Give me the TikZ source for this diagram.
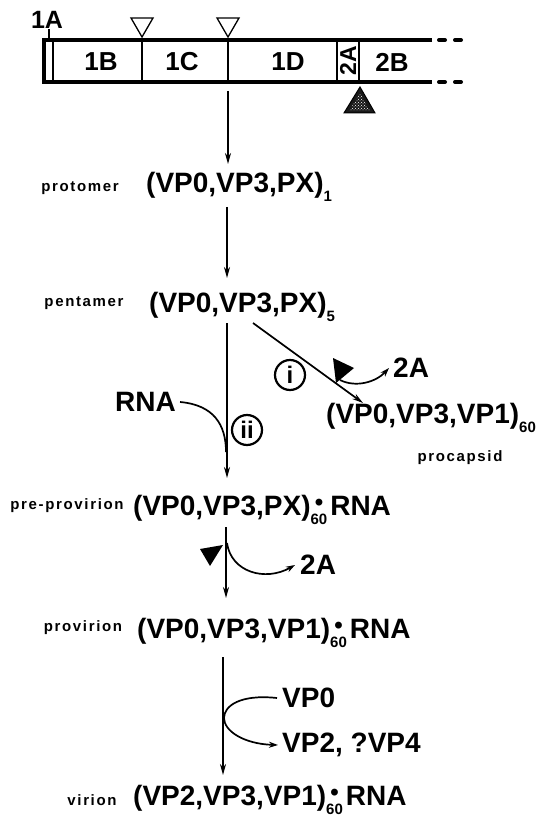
\documentclass[tikz,border=0pt]{standalone}
\usepackage{fontspec}
\setmainfont{Liberation Sans}
\newfontfamily\stagefam{Liberation Sans}[LetterSpace=11]
\usetikzlibrary{arrows.meta,patterns}

% subscript sizes and the stacked "dot over 60" used in the RNA complexes
\newcommand\subsz{\fontsize{15}{15}\selectfont}
\newcommand\lowsub[1]{\raisebox{-9pt}{\subsz #1}}
\newcommand\dotsub[1]{{\subsz\ooalign{\raisebox{-9pt}{#1}\cr\hidewidth\raisebox{5pt}{\fontsize{24}{24}\selectfont\textbullet}\hidewidth\cr}}\hspace{3pt}}

\begin{document}
\begin{tikzpicture}[x=1pt,y=-1pt,
  formula/.style={font=\fontsize{28}{30}\selectfont\bfseries, inner sep=0pt, anchor=base west},
  sidelbl/.style={font=\fontsize{28}{30}\selectfont\bfseries, inner sep=0pt, anchor=west},
  stage/.style={font=\stagefam\fontsize{15}{17}\selectfont\bfseries, inner sep=0pt},
  seg/.style={font=\fontsize{26}{28}\selectfont\bfseries, inner sep=0pt},
  flow/.style={line width=1.7pt, -{Stealth[length=11pt,width=6pt]}},
  sidearrow/.style={line width=1.7pt, -{Stealth[length=9pt,width=6pt]}},
  ring/.style={circle, draw, line width=2.2pt, minimum size=30pt, inner sep=0pt,
               font=\fontsize{24}{24}\selectfont\bfseries},
  thick bar/.style={line width=4pt},
  divider/.style={line width=1.3pt},
]
\useasboundingbox (0,0) rectangle (556,818);

% ---------------- polyprotein bar ----------------
\draw[thick bar, line join=miter] (432,40) -- (44,40) -- (44,82) -- (432,82);
\draw[thick bar, line cap=round] (439,40) -- (445,40) (455,40) -- (461,40)
                                 (439,82) -- (445,82) (455,82) -- (461,82);
\foreach \xx in {53,142,228,337,359} \draw[divider] (\xx,40) -- (\xx,82);
\draw[divider] (49,29) -- (49,40);

\node[font=\fontsize{25}{26}\selectfont\bfseries, inner sep=0pt] (s1A) at (47,20) {1A};
\node[seg] (s1B) at (101,62) {1B};
\node[seg] (s1C) at (182,62) {1C};
\node[seg] (s1D) at (288,62) {1D};
\node[seg, rotate=90, font=\fontsize{23}{24}\selectfont\bfseries] (s2A) at (348,61) {2A};
\node[seg] (s2B) at (392,62) {2B};

% cleavage sites
\draw[divider, fill=white] (131,18) -- (153,18) -- (142,37) -- cycle;
\draw[divider, fill=white] (217,18) -- (239,18) -- (228,37) -- cycle;
\filldraw[fill=black!90, line width=1pt] (360,87) -- (375,113) -- (344,113) -- cycle;
\fill[pattern=crosshatch dots, pattern color=white] (360,93) -- (370,111) -- (349,111) -- cycle;

% ---------------- assembly intermediates ----------------
\node[formula] (prot)   at (146,193) {(VP0,VP3,PX)\lowsub{1}};
\node[formula] (pent)   at (149,312) {(VP0,VP3,PX)\lowsub{5}};
\node[formula] (procap) at (326,423) {(VP0,VP3,VP1)\lowsub{60}};
\node[formula] (prepro) at (133,515) {(VP0,VP3,PX)\dotsub{60}RNA};
\node[formula] (provir) at (137,638) {(VP0,VP3,VP1)\dotsub{60}RNA};
\node[formula] (virion) at (133,805) {(VP2,VP3,VP1)\dotsub{60}RNA};

\node[stage] (lprot)   at (80,188)  {protomer};
\node[stage] (lpent)   at (84,303)  {pentamer};
\node[stage] (lprepro) at (67,506)  {pre-provirion};
\node[stage] (lprovir) at (83,628)  {provirion};
\node[stage] (lvirion) at (92,800)  {virion};
\node[stage] (lprocap) at (460,458) {procapsid};

\node[sidelbl] (rna)  at (115,402) {RNA};
\node[sidelbl] (twoA) at (393,368) {2A};
\node[sidelbl] (twoB) at (300,565) {2A};
\node[sidelbl] (vpo)  at (282,698) {VP0};
\node[sidelbl] (vpt)  at (282,745) {VP2, ?VP4};

\node[ring] (ci)  at (290,375) {i};
\node[ring] (cii) at (247,430) {ii};

% ---------------- main pathway ----------------
\coordinate (a1s) at (228,91);  \coordinate (a1e) at (228,164);
\coordinate (a2s) at (227,207); \coordinate (a2e) at (227,278);
\coordinate (a3s) at (227,323); \coordinate (a3e) at (227,478);
\coordinate (dgs) at (253,323); \coordinate (dge) at (363,403);
\coordinate (a4s) at (226,527); \coordinate (a4e) at (226,598);
\coordinate (a5s) at (223,657); \coordinate (a5e) at (223,775);

\draw[flow] (a1s) -- (a1e);
\draw[flow] (a2s) -- (a2e);
\draw[flow] (a3s) -- (a3e);
\draw[flow] (dgs) -- (dge);
\draw[flow] (a4s) -- (a4e);
\draw[flow] (a5s) -- (a5e);

% ---------------- side reactions ----------------
% 2A release on the procapsid branch
\fill (333,358) -- (354,368) -- (336,383) -- cycle;
\coordinate (ra) at (340,380);
\draw[sidearrow] (ra) .. controls (356,388) and (376,382) .. ([xshift=-4pt]twoA.west);

% RNA joining the pentamers
\coordinate (rj) at (226,452);
\draw[line width=1.7pt] ([xshift=4pt]rna.east) .. controls (214,405) and (226,425) .. (rj);

% 2A release from the pre-provirion
\fill (200,549) -- (223,545) -- (210,566) -- cycle;
\coordinate (rb) at (227,543);
\draw[sidearrow] (rb) .. controls (231,572) and (265,582) .. ([xshift=-5pt]twoB.west);

% VP0 cleavage to VP2 and VP4
\coordinate (vm) at (224,718);
\draw[sidearrow] ([xshift=-5pt]vpo.west) .. controls (240,694) and (224,706) .. (vm)
                 .. controls (224,731) and (244,744) .. ([xshift=-4pt]vpt.west);
\end{tikzpicture}
\end{document}
